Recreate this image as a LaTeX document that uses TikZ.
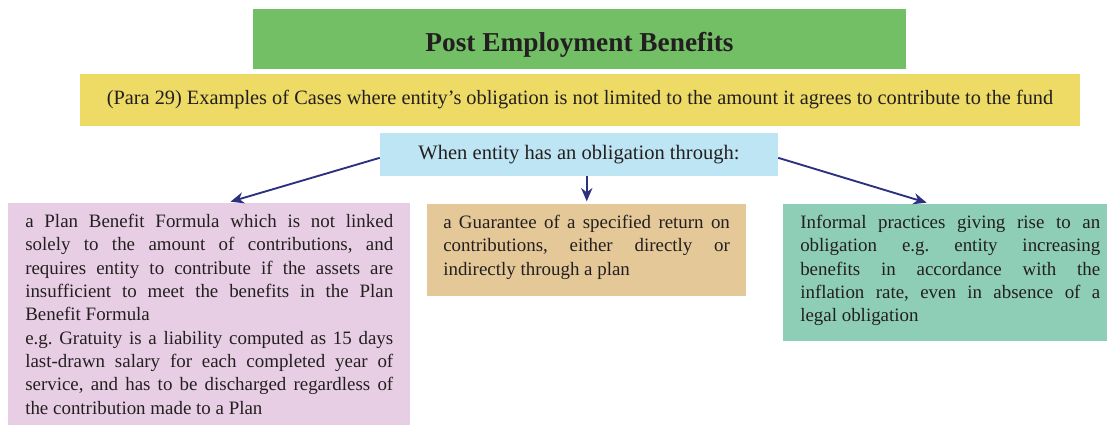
\documentclass[tikz,border=0pt]{standalone}
\usepackage{fontspec}
\setmainfont{Liberation Serif}
\usetikzlibrary{arrows.meta,calc}

\definecolor{titlegreen}{HTML}{72BF65}
\definecolor{parayellow}{HTML}{EEDB66}
\definecolor{whenblue}{HTML}{BEE5F3}
\definecolor{planpink}{HTML}{E8CEE4}
\definecolor{guartan}{HTML}{E4C898}
\definecolor{inforteal}{HTML}{8ECEB6}
\definecolor{linkblue}{HTML}{2B3080}
\definecolor{inkgrey}{HTML}{231F20}

\frenchspacing
\tolerance=9999
\hyphenpenalty=10000
\exhyphenpenalty=10000

\tikzset{
  banner/.style={inner sep=0pt, text=inkgrey},
  casebox/.style={inner sep=0pt, anchor=north west},
  casetext/.style={inner sep=0pt, anchor=north west, align=justify, text=inkgrey,
    font=\fontsize{14.2}{17.5}\selectfont},
  link/.style={draw=linkblue, line width=1.4pt, -{Stealth[length=10pt,width=8.5pt]}}
}

\begin{document}
\begin{tikzpicture}[x=0.75pt,y=-0.75pt]
\useasboundingbox (0,0) rectangle (1107,425);

% headers
\node[banner, fill=titlegreen, minimum width=489.75pt, minimum height=45pt,
  text height=18pt, text depth=0pt,
  font=\fontsize{20.5}{24}\selectfont\bfseries] (title) at (579.5,39) {Post Employment Benefits};
\node[banner, fill=parayellow, minimum width=750pt, minimum height=39pt,
  font=\fontsize{15.25}{18}\selectfont] (para) at (580,100)
  {(Para 29) Examples of Cases where entity’s obligation is not limited to the amount it agrees to contribute to the fund};
\node[banner, fill=whenblue, minimum width=298.5pt, minimum height=32.25pt,
  font=\fontsize{15.4}{18}\selectfont] (when) at (579,154.5) {When entity has an obligation through:};

% cases
\node[casebox, fill=planpink, minimum width=301.5pt, minimum height=166.5pt] (plan) at (8,203) {};
\node[casetext, text width=276pt] (plantext) at (25,214) {%
  a Plan Benefit Formula which is not linked\linebreak
  solely to the amount of contributions, and\linebreak
  requires entity to contribute if the assets are\linebreak
  insufficient to meet the benefits in the Plan\linebreak
  Benefit Formula\\
  e.g. Gratuity is a liability computed as 15 days\linebreak
  last-drawn salary for each completed year of\linebreak
  service, and has to be discharged regardless of\linebreak
  the contribution made to a Plan};

\node[casebox, fill=guartan, minimum width=239.25pt, minimum height=69pt] (guar) at (427,204) {};
\node[casetext, text width=215pt] (guartext) at (443,215) {%
  a Guarantee of a specified return on\linebreak
  contributions, either directly or\linebreak
  indirectly through a plan};

\node[casebox, fill=inforteal, minimum width=243pt, minimum height=102.75pt] (infor) at (783,204) {};
\node[casetext, text width=225pt] (infortext) at (800,215) {%
  Informal practices giving rise to an\linebreak
  obligation e.g. entity increasing\linebreak
  benefits in accordance with the\linebreak
  inflation rate, even in absence of a\linebreak
  legal obligation};

% connectors
\draw[link] ([yshift=-2.5pt]when.west) -- ([xshift=16pt,yshift=1pt]plan.north);
\draw[link] (guar.north |- when.south) -- ([yshift=2pt]guar.north);
\draw[link] ([yshift=-2.5pt]when.east) -- ([xshift=-14pt,yshift=1pt]infor.north);
\end{tikzpicture}
\end{document}
